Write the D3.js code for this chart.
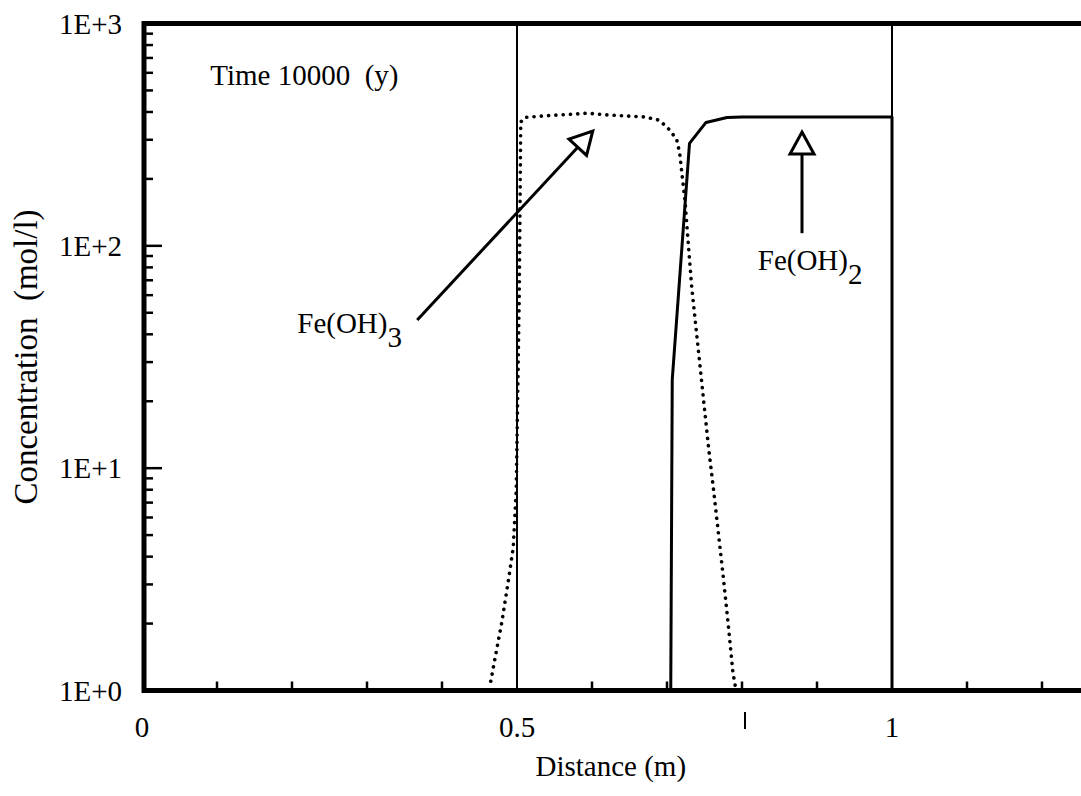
<!DOCTYPE html>
<html>
<head>
<meta charset="utf-8">
<script src="https://cdn.jsdelivr.net/npm/d3@7/dist/d3.min.js"></script>
<style>
  html, body { margin: 0; padding: 0; background: #fff; }
  svg { display: block; }
  svg text { font-family: 'Liberation Serif', 'Tinos', 'Times New Roman', 'Times', 'Nimbus Roman', 'Nimbus Roman No9 L', 'FreeSerif', 'Noto Serif', 'DejaVu Serif', 'Georgia', serif; fill: #000; white-space: pre; }
</style>
</head>
<body>
<svg id="chart" width="1081" height="796"></svg>
<script>
// ---- data ----
const feoh3X = [0.465, 0.480, 0.488, 0.495, 0.499, 0.503, 0.505, 0.510, 0.540, 0.580, 0.593, 0.620, 0.670, 0.690, 0.704, 0.713, 0.717, 0.720, 0.724, 0.728, 0.733, 0.756, 0.761, 0.768, 0.775, 0.781, 0.788, 0.791];
const feoh3Y = [1.1, 2.05, 3.05, 4.4, 8, 60, 360, 378, 385, 392, 395, 388, 380, 367, 331, 300, 260, 210, 160, 106, 65, 11.9, 8.6, 5.3, 3.25, 2.08, 1.2, 1.05];

const feoh2X = [0.0, 0.705, 0.707, 0.730, 0.752, 0.780, 0.800, 1.000, 1.000, 1.252];
const feoh2Y = [1, 1, 25, 289, 359, 378, 380, 380, 1, 1];

const boundaryX = [0.5, 1.0];

const xMajorTicks = [0, 0.5, 1];
const xMajorLabels = ["0", "0.5", "1"];
const xMinorTicks = [0.1, 0.2, 0.3, 0.4, 0.6, 0.7, 0.8, 0.9, 1.1, 1.2];

const yMajorTicks = [1, 10, 100, 1000];
const yMajorLabels = ["1E+0", "1E+1", "1E+2", "1E+3"];
const yMinorMultipliers = [2, 3, 4, 5, 6, 7, 8, 9];

const xTitle = "Distance (m)";
const yTitle = "Concentration  (mol/l)";
const timeLabel = "Time 10000  (y)";

// annotations (data coordinates)
const arrowFeOH3 = { from: [0.367, 46.4], to: [0.601, 328] };
const arrowFeOH2 = { from: [0.880, 114], to: [0.880, 325] };
const labelFeOH3 = { at: [0.207, 40.6], main: "Fe(OH)", sub: "3" };
const labelFeOH2 = { at: [0.821, 77.8], main: "Fe(OH)", sub: "2" };
const timeAt = [0.091, 528];

// ---- scales ----
const x = d3.scaleLinear().domain([0, 1]).range([142, 892]);
const y = d3.scaleLog().domain([1, 1000]).range([690.5, 23.5]);
const xMax = 1.252;

const svg = d3.select("#chart");
const FS = 29;

// boundary vertical lines
svg.append("g").selectAll("line").data(boundaryX).join("line")
  .attr("x1", d => x(d)).attr("x2", d => x(d))
  .attr("y1", y(1000)).attr("y2", y(1))
  .attr("stroke", "#000").attr("stroke-width", 2);

// curves
const line = d3.line().x(d => x(d[0])).y(d => y(d[1]));
svg.append("path")
  .datum(feoh3X.map((v, i) => [v, feoh3Y[i]]))
  .attr("d", line)
  .attr("fill", "none").attr("stroke", "#000")
  .attr("stroke-width", 3.6).attr("stroke-linecap", "round")
  .attr("stroke-dasharray", "0.1 7.2");

svg.append("path")
  .datum(feoh2X.map((v, i) => [v, feoh2Y[i]]))
  .attr("d", line)
  .attr("fill", "none").attr("stroke", "#000")
  .attr("stroke-width", 3).attr("stroke-linejoin", "round");

// axes
const axisG = svg.append("g");
const yMinor = [];
[1, 10, 100].forEach(dec => yMinorMultipliers.forEach(m => yMinor.push(dec * m)));
axisG.selectAll("line.ymin").data(yMinor).join("line")
  .attr("x1", x(0)).attr("x2", x(0) + 11)
  .attr("y1", d => y(d)).attr("y2", d => y(d))
  .attr("stroke", "#000").attr("stroke-width", 2.5);
axisG.selectAll("line.ymaj").data(yMajorTicks.slice(1, 3)).join("line")
  .attr("x1", x(0)).attr("x2", x(0) + 20)
  .attr("y1", d => y(d)).attr("y2", d => y(d))
  .attr("stroke", "#000").attr("stroke-width", 2.5);
axisG.selectAll("line.xmin").data(xMinorTicks).join("line")
  .attr("x1", d => x(d)).attr("x2", d => x(d))
  .attr("y1", y(1)).attr("y2", y(1) - 9)
  .attr("stroke", "#000").attr("stroke-width", 2.5);

axisG.append("line").attr("x1", x(0) + 2).attr("x2", x(0) + 2)
  .attr("y1", y(1000) - 2.5).attr("y2", y(1) + 2.5)
  .attr("stroke", "#000").attr("stroke-width", 5);
axisG.append("line").attr("x1", x(0)).attr("x2", x(xMax))
  .attr("y1", y(1)).attr("y2", y(1))
  .attr("stroke", "#000").attr("stroke-width", 5);
axisG.append("line").attr("x1", x(0)).attr("x2", x(xMax))
  .attr("y1", y(1000)).attr("y2", y(1000))
  .attr("stroke", "#000").attr("stroke-width", 5);

// y tick labels
svg.append("g").selectAll("text").data(yMajorTicks).join("text")
  .attr("x", 122).attr("y", d => y(d) + 10)
  .attr("text-anchor", "end").attr("font-size", FS)
  .text((d, i) => yMajorLabels[i]);

// x tick labels
svg.append("g").selectAll("text").data(xMajorTicks).join("text")
  .attr("x", d => x(d)).attr("y", 737)
  .attr("text-anchor", "middle").attr("font-size", FS)
  .text((d, i) => xMajorLabels[i]);

// stray mark under 0.8
svg.append("line").attr("x1", x(0.804)).attr("x2", x(0.804))
  .attr("y1", 712).attr("y2", 729)
  .attr("stroke", "#000").attr("stroke-width", 2);

// axis titles
svg.append("text").attr("x", x(0.625)).attr("y", 776)
  .attr("text-anchor", "middle").attr("font-size", FS).text(xTitle);
svg.append("text")
  .attr("transform", `translate(37,${(y(1) + y(1000)) / 2}) rotate(-90)`)
  .attr("text-anchor", "middle").attr("font-size", 33).text(yTitle);

// time label
svg.append("text").attr("x", x(timeAt[0])).attr("y", y(timeAt[1]))
  .attr("font-size", FS).text(timeLabel);

// arrows with open triangular heads
function arrow(a) {
  const x1 = x(a.from[0]), y1 = y(a.from[1]);
  const x2 = x(a.to[0]), y2 = y(a.to[1]);
  const ang = Math.atan2(y2 - y1, x2 - x1);
  const L = 22, W = 12;
  const bx = x2 - L * Math.cos(ang), by = y2 - L * Math.sin(ang);
  svg.append("line").attr("x1", x1).attr("y1", y1).attr("x2", bx).attr("y2", by)
    .attr("stroke", "#000").attr("stroke-width", 3);
  const px = -Math.sin(ang), py = Math.cos(ang);
  const pts = [[x2, y2], [bx + W * px, by + W * py], [bx - W * px, by - W * py]];
  svg.append("polygon").attr("points", pts.map(p => p.join(",")).join(" "))
    .attr("fill", "#fff").attr("stroke", "#000").attr("stroke-width", 3)
    .attr("stroke-linejoin", "miter");
}
arrow(arrowFeOH3);
arrow(arrowFeOH2);

// chemical labels
function chem(l) {
  const t = svg.append("text").attr("x", x(l.at[0])).attr("y", y(l.at[1]))
    .attr("font-size", FS);
  t.append("tspan").text(l.main);
  t.append("tspan").attr("dy", 14).text(l.sub);
}
chem(labelFeOH3);
chem(labelFeOH2);
</script>
</body>
</html>
